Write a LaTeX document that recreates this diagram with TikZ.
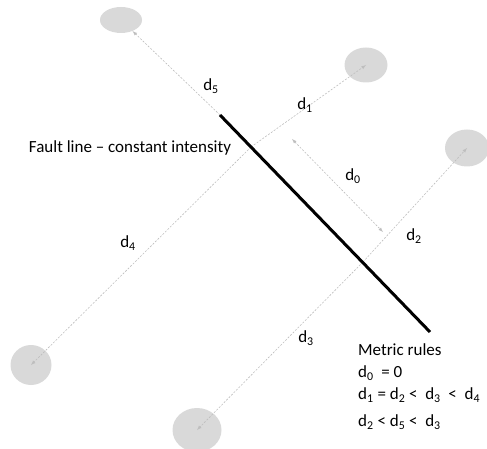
\documentclass[tikz,border=0pt]{standalone}
\usepackage{fontspec}
\setmainfont{Carlito}
\usetikzlibrary{positioning,shapes,arrows}
\definecolor{spotgray}{RGB}{217,217,217}
\definecolor{linegray}{RGB}{190,190,190}
\definecolor{tipgray}{RGB}{170,170,170}

\begin{document}
\begin{tikzpicture}[x=1pt,y=-1pt,
        spot/.style={ellipse,fill=spotgray,draw=none,inner sep=0pt},
        dist/.style={dash pattern=on 2pt off 1.5pt,draw=linegray,line width=0.6pt,-latex},
        lbl/.style={font=\fontsize{17}{20}\selectfont,inner sep=0pt}]
        \useasboundingbox (0,0) rectangle (487,449);

        % Measuring points
        \node[spot,minimum width=42pt,minimum height=26pt] (e5) at (121,20) {};
        \node[spot,minimum width=43pt,minimum height=35pt] (e1) at (366,65) {};
        \node[spot,minimum width=44pt,minimum height=37pt] (e2) at (467,148) {};
        \node[spot,minimum width=41pt,minimum height=40pt] (e4) at (31,365) {};
        \node[spot,minimum width=49pt,minimum height=44pt] (e3) at (197,430) {};

        % Fault line
        \coordinate (ftop) at (220,115);
        \coordinate (fbot) at (430,332);
        \coordinate (c1) at (251,147);
        \coordinate (c2) at (363,262);
        \coordinate (d0a) at (292,139);
        \coordinate (d0b) at (383,232);

        % Distances
        \draw[dist] (ftop) -- (e5);
        \draw[dist] (c1) -- (e1.center);
        \draw[dist] (c1) -- (e4.center);
        \draw[dist] (c2) -- (e2.center);
        \draw[dist] (c2) -- (e3.center);
        \draw[dist,latex-latex] (d0a) -- (d0b);
        \draw[line width=3pt] (ftop) -- (fbot);

        % Labels
        \node[lbl] (l5) at (211,86) {d\textsubscript{5}};
        \node[lbl] (l1) at (305,105) {d\textsubscript{1}};
        \node[lbl] (l0) at (353,176) {d\textsubscript{0}};
        \node[lbl] (l2) at (414,236) {d\textsubscript{2}};
        \node[lbl] (l4) at (128,243) {d\textsubscript{4}};
        \node[lbl] (l3) at (306,338) {d\textsubscript{3}};
        \node[lbl] (fault) at (130,148) {Fault line – constant intensity};

        % Metric rules
        \node[lbl,anchor=west] (r0) at (358,350) {Metric rules};
        \node[lbl,anchor=west] (r1) at (358,373) {d\textsubscript{0} ~= 0};
        \node[lbl,anchor=west] (r2) at (358,395) {d\textsubscript{1} = d\textsubscript{2} <~ d\textsubscript{3} ~<~ d\textsubscript{4}};
        \node[lbl,anchor=west] (r3) at (358,422) {d\textsubscript{2} < d\textsubscript{5} <~ d\textsubscript{3}};
\end{tikzpicture}
\end{document}
